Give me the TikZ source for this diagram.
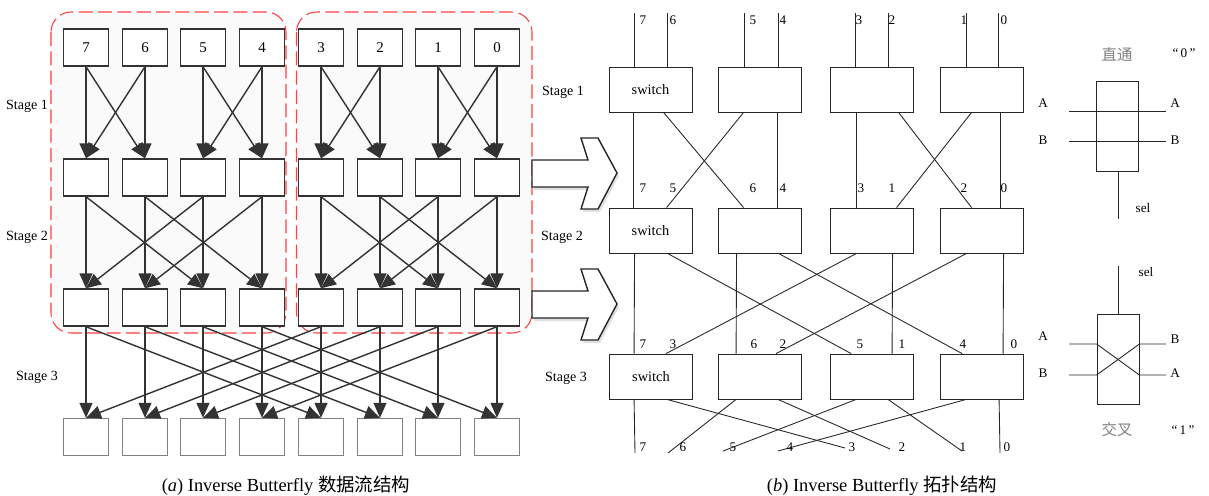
\documentclass[tikz,border=0pt]{standalone}
\usepackage{fontspec}
\setmainfont{Liberation Serif}
\newfontfamily\cjk{Noto Sans CJK SC}
\usetikzlibrary{arrows.meta, positioning, calc}

\begin{document}
\begin{tikzpicture}[
    x=0.02cm, y=-0.02cm,
    box/.style={draw=black!80, line width=0.8pt, fill=white, minimum width=0.9cm, minimum height=0.74cm, inner sep=0pt, font=\fontsize{8.5}{9}\selectfont},
    outbox/.style={box, draw=black!50},
    arrow/.style={-{Triangle[length=0.3cm, width=0.26cm]}, line width=0.8pt, draw=black!80},
    group/.style={draw=red!75, dash pattern=on 8pt off 3pt, line width=0.6pt, rounded corners=0.4cm, fill=black!2},
    blockarrow/.style={draw=black!85, line width=0.8pt, fill=white},
    stage/.style={inner sep=0pt, font=\fontsize{8}{9}\selectfont},
    switch/.style={draw=black!85, line width=0.5pt, minimum width=1.66cm, minimum height=0.9cm, inner sep=0pt, font=\fontsize{8.2}{9}\selectfont},
    wire/.style={draw=black!85, line width=0.5pt},
    num/.style={inner sep=0pt, font=\fontsize{7.5}{9}\selectfont},
    legendbox/.style={draw=black!85, line width=0.5pt, minimum width=0.84cm, minimum height=1.8cm, inner sep=0pt},
    cjktext/.style={inner sep=0pt, text=black!50, font=\cjk\fontsize{8.8}{10}\selectfont},
    caption/.style={inner sep=0pt, font=\fontsize{10.5}{12}\selectfont}
]
    \useasboundingbox (0,0) rectangle (1209,495);

    % Groups of the data flow
    \draw[group] (51,12) rectangle (286,333);
    \draw[group] (296.5,12) rectangle (532,333);

    % Inputs
    \node[box] (in7) at (86,47.5) {7};
    \node[box] (in6) at (145,47.5) {6};
    \node[box] (in5) at (203,47.5) {5};
    \node[box] (in4) at (262,47.5) {4};
    \node[box] (in3) at (321,47.5) {3};
    \node[box] (in2) at (380,47.5) {2};
    \node[box] (in1) at (438,47.5) {1};
    \node[box] (in0) at (497,47.5) {0};

    % After stage 1
    \node[box] (mid7) at (86,177.5) {};
    \node[box] (mid6) at (145,177.5) {};
    \node[box] (mid5) at (203,177.5) {};
    \node[box] (mid4) at (262,177.5) {};
    \node[box] (mid3) at (321,177.5) {};
    \node[box] (mid2) at (380,177.5) {};
    \node[box] (mid1) at (438,177.5) {};
    \node[box] (mid0) at (497,177.5) {};

    % After stage 2
    \node[box] (low7) at (86,307.5) {};
    \node[box] (low6) at (145,307.5) {};
    \node[box] (low5) at (203,307.5) {};
    \node[box] (low4) at (262,307.5) {};
    \node[box] (low3) at (321,307.5) {};
    \node[box] (low2) at (380,307.5) {};
    \node[box] (low1) at (438,307.5) {};
    \node[box] (low0) at (497,307.5) {};

    % Outputs
    \node[outbox] (out7) at (86,437) {};
    \node[outbox] (out6) at (145,437) {};
    \node[outbox] (out5) at (203,437) {};
    \node[outbox] (out4) at (262,437) {};
    \node[outbox] (out3) at (321,437) {};
    \node[outbox] (out2) at (380,437) {};
    \node[outbox] (out1) at (438,437) {};
    \node[outbox] (out0) at (497,437) {};

    % Stage labels
    \node[stage] (sa1) at (27,106) {Stage 1};
    \node[stage] (sa2) at (27,237) {Stage 2};
    \node[stage] (sa3) at (37,377) {Stage 3};

    % Stage 1 arrows
    \draw[arrow] (in7.south) -- (mid7.north);
    \draw[arrow] (in7.south) -- (mid6.north);
    \draw[arrow] (in6.south) -- (mid6.north);
    \draw[arrow] (in6.south) -- (mid7.north);
    \draw[arrow] (in5.south) -- (mid5.north);
    \draw[arrow] (in5.south) -- (mid4.north);
    \draw[arrow] (in4.south) -- (mid4.north);
    \draw[arrow] (in4.south) -- (mid5.north);
    \draw[arrow] (in3.south) -- (mid3.north);
    \draw[arrow] (in3.south) -- (mid2.north);
    \draw[arrow] (in2.south) -- (mid2.north);
    \draw[arrow] (in2.south) -- (mid3.north);
    \draw[arrow] (in1.south) -- (mid1.north);
    \draw[arrow] (in1.south) -- (mid0.north);
    \draw[arrow] (in0.south) -- (mid0.north);
    \draw[arrow] (in0.south) -- (mid1.north);

    % Stage 2 arrows
    \draw[arrow] (mid7.south) -- (low7.north);
    \draw[arrow] (mid7.south) -- (low5.north);
    \draw[arrow] (mid6.south) -- (low6.north);
    \draw[arrow] (mid6.south) -- (low4.north);
    \draw[arrow] (mid5.south) -- (low5.north);
    \draw[arrow] (mid5.south) -- (low7.north);
    \draw[arrow] (mid4.south) -- (low4.north);
    \draw[arrow] (mid4.south) -- (low6.north);
    \draw[arrow] (mid3.south) -- (low3.north);
    \draw[arrow] (mid3.south) -- (low1.north);
    \draw[arrow] (mid2.south) -- (low2.north);
    \draw[arrow] (mid2.south) -- (low0.north);
    \draw[arrow] (mid1.south) -- (low1.north);
    \draw[arrow] (mid1.south) -- (low3.north);
    \draw[arrow] (mid0.south) -- (low0.north);
    \draw[arrow] (mid0.south) -- (low2.north);

    % Stage 3 arrows
    \draw[arrow] (low7.south) -- (out7.north);
    \draw[arrow] (low7.south) -- (out3.north);
    \draw[arrow] (low6.south) -- (out6.north);
    \draw[arrow] (low6.south) -- (out2.north);
    \draw[arrow] (low5.south) -- (out5.north);
    \draw[arrow] (low5.south) -- (out1.north);
    \draw[arrow] (low4.south) -- (out4.north);
    \draw[arrow] (low4.south) -- (out0.north);
    \draw[arrow] (low3.south) -- (out3.north);
    \draw[arrow] (low3.south) -- (out7.north);
    \draw[arrow] (low2.south) -- (out2.north);
    \draw[arrow] (low2.south) -- (out6.north);
    \draw[arrow] (low1.south) -- (out1.north);
    \draw[arrow] (low1.south) -- (out5.north);
    \draw[arrow] (low0.south) -- (out0.north);
    \draw[arrow] (low0.south) -- (out4.north);

    % Block arrows
    \fill[black!12, shift={(2,3)}] (532,160) -- (588,160) -- (581,138) -- (598,138) -- (617,173) -- (598,209) -- (581,209) -- (588,187) -- (532,187) -- cycle;
    \draw[blockarrow] (532,160) -- (588,160) -- (581,138) -- (598,138) -- (617,173) -- (598,209) -- (581,209) -- (588,187) -- (532,187) -- cycle;
    \fill[black!12, shift={(2,3)}] (532,291) -- (588,291) -- (581,269) -- (598,269) -- (617,304) -- (598,340) -- (581,340) -- (588,318) -- (532,318) -- cycle;
    \draw[blockarrow] (532,291) -- (588,291) -- (581,269) -- (598,269) -- (617,304) -- (598,340) -- (581,340) -- (588,318) -- (532,318) -- cycle;

    % Switch network
    \node[switch] (r1a) at (650.5,89.5) {switch};
    \node[switch] (r1b) at (759.5,89.5) {};
    \node[switch] (r1c) at (871.5,89.5) {};
    \node[switch] (r1d) at (981.5,89.5) {};
    \node[switch] (r2a) at (650.5,230.5) {switch};
    \node[switch] (r2b) at (759.5,230.5) {};
    \node[switch] (r2c) at (871.5,230.5) {};
    \node[switch] (r2d) at (981.5,230.5) {};
    \node[switch] (r3a) at (651,376.5) {switch};
    \node[switch] (r3b) at (760,376.5) {};
    \node[switch] (r3c) at (872,376.5) {};
    \node[switch] (r3d) at (982,376.5) {};

    \node[stage] (sb1) at (563,92) {Stage 1};
    \node[stage] (sb2) at (562,237) {Stage 2};
    \node[stage] (sb3) at (566,378) {Stage 3};

    % Input wires
    \coordinate (i7) at (634,13);
    \coordinate (i6) at (667,13);
    \coordinate (i5) at (744,13);
    \coordinate (i4) at (778,13);
    \coordinate (i3) at (855,13);
    \coordinate (i2) at (888,13);
    \coordinate (i1) at (966,13);
    \coordinate (i0) at (998,13);
    \draw[wire] (i7) -- (i7 |- r1a.north);
    \draw[wire] (i6) -- (i6 |- r1a.north);
    \draw[wire] (i5) -- (i5 |- r1b.north);
    \draw[wire] (i4) -- (i4 |- r1b.north);
    \draw[wire] (i3) -- (i3 |- r1c.north);
    \draw[wire] (i2) -- (i2 |- r1c.north);
    \draw[wire] (i1) -- (i1 |- r1d.north);
    \draw[wire] (i0) -- (i0 |- r1d.north);
    \node[num] (lt7) at (643,20) {7};
    \node[num] (lt6) at (673,20) {6};
    \node[num] (lt5) at (753,20) {5};
    \node[num] (lt4) at (783,20) {4};
    \node[num] (lt3) at (859,20) {3};
    \node[num] (lt2) at (892,20) {2};
    \node[num] (lt1) at (964,20) {1};
    \node[num] (lt0) at (1004,20) {0};

    % Stage 1 wires
    \draw[wire] ($(r1a.south west)+(25,0)$) -- ($(r2a.north west)+(25,0)$);
    \draw[wire] ($(r1a.south west)+(55,0)$) -- ($(r2b.north west)+(26,0)$);
    \draw[wire] ($(r1b.south west)+(26,0)$) -- ($(r2a.north west)+(58,0)$);
    \draw[wire] ($(r1b.south west)+(60,0)$) -- ($(r2b.north west)+(60,0)$);
    \draw[wire] ($(r1c.south west)+(27,0)$) -- ($(r2c.north west)+(27,0)$);
    \draw[wire] ($(r1c.south west)+(69,0)$) -- ($(r2d.north west)+(32,0)$);
    \draw[wire] ($(r1d.south west)+(32,0)$) -- ($(r2c.north west)+(67,0)$);
    \draw[wire] ($(r1d.south west)+(61,0)$) -- ($(r2d.north west)+(61,0)$);
    \node[num] (lm7) at (643,188) {7};
    \node[num] (lm5) at (673,188) {5};
    \node[num] (lm6) at (753,188) {6};
    \node[num] (lm4) at (783,188) {4};
    \node[num] (lm3) at (861,188) {3};
    \node[num] (lm1) at (892,188) {1};
    \node[num] (lm2) at (964,188) {2};
    \node[num] (lm0) at (1004,188) {0};

    % Stage 2 wires
    \draw[wire] ($(r2a.south west)+(26,0)$) -- ($(r3a.north west)+(25,0)$);
    \draw[wire] ($(r2a.south west)+(59,0)$) -- ($(r3c.north west)+(21,0)$);
    \draw[wire] ($(r2b.south west)+(19,0)$) -- ($(r3b.north west)+(18,0)$);
    \draw[wire] ($(r2b.south west)+(61,0)$) -- ($(r3d.north west)+(22,0)$);
    \draw[wire] ($(r2c.south west)+(27,0)$) -- ($(r3a.north west)+(57,0)$);
    \draw[wire] ($(r2c.south west)+(63,0)$) -- ($(r3c.north west)+(62,0)$);
    \draw[wire] ($(r2d.south west)+(27,0)$) -- ($(r3b.north west)+(58,0)$);
    \draw[wire] ($(r2d.south west)+(64,0)$) -- ($(r3d.north west)+(63,0)$);
    \node[num] (ll7) at (643,344) {7};
    \node[num] (ll3) at (673,344) {3};
    \node[num] (ll6) at (754,344) {6};
    \node[num] (ll2) at (783,344) {2};
    \node[num] (ll5) at (860,344) {5};
    \node[num] (ll1) at (902,344) {1};
    \node[num] (ll4) at (963,344) {4};
    \node[num] (ll0) at (1014,344) {0};

    % Stage 3 wires
    \coordinate (o7) at (635,453);
    \coordinate (o6) at (668,453);
    \coordinate (o5) at (723,451);
    \coordinate (o4) at (778,451);
    \coordinate (o3) at (845,448);
    \coordinate (o2) at (890,449);
    \coordinate (o1) at (962,451);
    \coordinate (o0) at (1000,453);
    \draw[wire] ($(r3a.south west)+(25,0)$) -- (o7);
    \draw[wire] ($(r3a.south west)+(58,0)$) -- (o3);
    \draw[wire] ($(r3b.south west)+(18,0)$) -- (o6);
    \draw[wire] ($(r3b.south west)+(60,0)$) -- (o2);
    \draw[wire] ($(r3c.south west)+(26,0)$) -- (o5);
    \draw[wire] ($(r3c.south west)+(58,0)$) -- (o1);
    \draw[wire] ($(r3d.south west)+(26,0)$) -- (o4);
    \draw[wire] ($(r3d.south west)+(59,0)$) -- (o0);
    \node[num] (lo7) at (643,447) {7};
    \node[num] (lo6) at (683,447) {6};
    \node[num] (lo5) at (733,447) {5};
    \node[num] (lo4) at (790,447) {4};
    \node[num] (lo3) at (852,447) {3};
    \node[num] (lo2) at (902,447) {2};
    \node[num] (lo1) at (963,447) {1};
    \node[num] (lo0) at (1007,447) {0};

    % Straight switch "0"
    \node[legendbox] (sw0) at (1117,126) {};
    \coordinate (a0in) at (1069,111);
    \coordinate (a0out) at (1166,111);
    \coordinate (b0in) at (1069,141);
    \coordinate (b0out) at (1166,141);
    \coordinate (sel0) at (1118,219);
    \draw[wire] (a0in) -- (a0out);
    \draw[wire] (b0in) -- (b0out);
    \draw[wire] (sel0 |- sw0.south) -- (sel0);
    \node[num] (a0l) at (1043,103) {A};
    \node[num] (b0l) at (1043,140) {B};
    \node[num] (a0r) at (1175,103) {A};
    \node[num] (b0r) at (1175,140) {B};
    \node[num] (sel0l) at (1143,208) {sel};
    \node[cjktext] (pass) at (1117,55) {直通};
    \node[num] (pass0) at (1184,53) {“\,0\,”};

    % Cross switch "1"
    \node[legendbox] (sw1) at (1118,359.5) {};
    \coordinate (a1in) at (1069,344);
    \coordinate (b1in) at (1069,375);
    \coordinate (b1out) at (1166,344);
    \coordinate (a1out) at (1166,375);
    \coordinate (sel1) at (1118,266);
    \draw[wire] (a1in) -- (a1in -| sw1.west) -- (a1out -| sw1.east) -- (a1out);
    \draw[wire] (b1in) -- (b1in -| sw1.west) -- (b1out -| sw1.east) -- (b1out);
    \draw[wire] (sel1) -- (sel1 |- sw1.north);
    \node[num] (a1l) at (1043,336) {A};
    \node[num] (b1l) at (1043,373) {B};
    \node[num] (b1r) at (1175,339) {B};
    \node[num] (a1r) at (1175,373) {A};
    \node[num] (sel1l) at (1146,272) {sel};
    \node[cjktext] (cross) at (1117,430) {交叉};
    \node[num] (cross1) at (1183,430) {“\,1\,”};

    % Captions
    \node[caption] (capa) at (286,486) {(\textit{a}) Inverse Butterfly {\cjk 数据流结构}};
    \node[caption] (capb) at (882,486) {(\textit{b}) Inverse Butterfly {\cjk 拓扑结构}};
\end{tikzpicture}
\end{document}
